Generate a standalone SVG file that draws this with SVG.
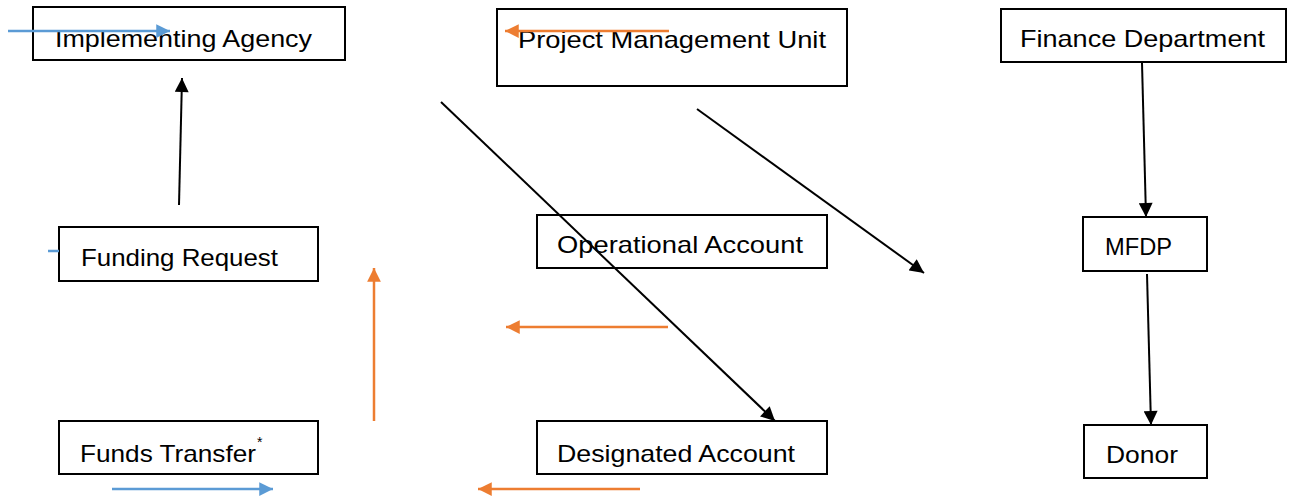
<svg xmlns="http://www.w3.org/2000/svg" width="1292" height="498" viewBox="0 0 1292 498">
<style>
.box{fill:#fff;stroke:#000;stroke-width:2}
.t{font-family:"Liberation Sans",Arial,sans-serif;font-size:24px;fill:#000}
.k{stroke:#000;stroke-width:2;fill:none}
.b{stroke:#5B9BD5;stroke-width:2.5;fill:none}
.o{stroke:#ED7D31;stroke-width:2.5;fill:none}
</style>
<defs>
<marker id="ak" viewBox="0 0 10 10" refX="10" refY="5" markerWidth="7.5" markerHeight="7" markerUnits="strokeWidth" orient="auto"><path d="M0,0 L10,5 L0,10 z" fill="#000"/></marker>
<marker id="ab" viewBox="0 0 10 10" refX="10" refY="5" markerWidth="6" markerHeight="5.5" markerUnits="strokeWidth" orient="auto"><path d="M0,0 L10,5 L0,10 z" fill="#5B9BD5"/></marker>
<marker id="ao" viewBox="0 0 10 10" refX="10" refY="5" markerWidth="6" markerHeight="5.5" markerUnits="strokeWidth" orient="auto"><path d="M0,0 L10,5 L0,10 z" fill="#ED7D31"/></marker>
</defs>
<g id="implementing-agency"><rect class="box" x="33" y="7" width="312" height="53"/><text class="t" x="55" y="47" textLength="257" lengthAdjust="spacingAndGlyphs">Implementing Agency</text></g>
<g id="project-management-unit"><rect class="box" x="497" y="9" width="350" height="77"/><text class="t" x="518" y="48" textLength="308" lengthAdjust="spacingAndGlyphs">Project Management Unit</text></g>
<g id="finance-department"><rect class="box" x="1001" y="9" width="285" height="53"/><text class="t" x="1020" y="47" textLength="245" lengthAdjust="spacingAndGlyphs">Finance Department</text></g>
<g id="funding-request"><rect class="box" x="59" y="227" width="259" height="54"/><text class="t" x="81" y="266" textLength="197" lengthAdjust="spacingAndGlyphs">Funding Request</text></g>
<g id="operational-account"><rect class="box" x="537" y="215" width="290" height="53"/><text class="t" x="557" y="253" textLength="246" lengthAdjust="spacingAndGlyphs">Operational Account</text></g>
<g id="mfdp"><rect class="box" x="1083" y="217" width="124" height="54"/><text class="t" x="1105" y="255" textLength="67" lengthAdjust="spacingAndGlyphs">MFDP</text></g>
<g id="funds-transfer"><rect class="box" x="59" y="421" width="259" height="53"/><text class="t" x="80" y="462"><tspan textLength="176" lengthAdjust="spacingAndGlyphs">Funds Transfer</tspan><tspan font-size="14" dx="1" dy="-15">*</tspan></text></g>
<g id="designated-account"><rect class="box" x="537" y="421" width="290" height="53"/><text class="t" x="557" y="462" textLength="238" lengthAdjust="spacingAndGlyphs">Designated Account</text></g>
<g id="donor"><rect class="box" x="1084" y="425" width="123" height="53"/><text class="t" x="1106" y="463" textLength="72" lengthAdjust="spacingAndGlyphs">Donor</text></g>
<g id="connectors">
<line class="b" x1="8" y1="31" x2="170" y2="31" marker-end="url(#ab)"/>
<line class="o" x1="669" y1="31" x2="505" y2="31" marker-end="url(#ao)"/>
<line class="k" x1="1142" y1="63" x2="1146" y2="217" marker-end="url(#ak)"/>
<line class="k" x1="1147" y1="274" x2="1151" y2="425" marker-end="url(#ak)"/>
<line class="b" x1="48" y1="251" x2="59" y2="251"/>
<line class="k" x1="179" y1="205" x2="182" y2="78" marker-end="url(#ak)"/>
<line class="o" x1="374" y1="421" x2="374" y2="268" marker-end="url(#ao)"/>
<line class="o" x1="668" y1="327" x2="506" y2="327" marker-end="url(#ao)"/>
<line class="o" x1="640" y1="489" x2="478" y2="489" marker-end="url(#ao)"/>
<line class="b" x1="112" y1="489" x2="273" y2="489" marker-end="url(#ab)"/>
<line class="k" x1="441" y1="102" x2="775" y2="421" marker-end="url(#ak)"/>
<line class="k" x1="697" y1="109" x2="924" y2="273" marker-end="url(#ak)"/>
</g>
</svg>
